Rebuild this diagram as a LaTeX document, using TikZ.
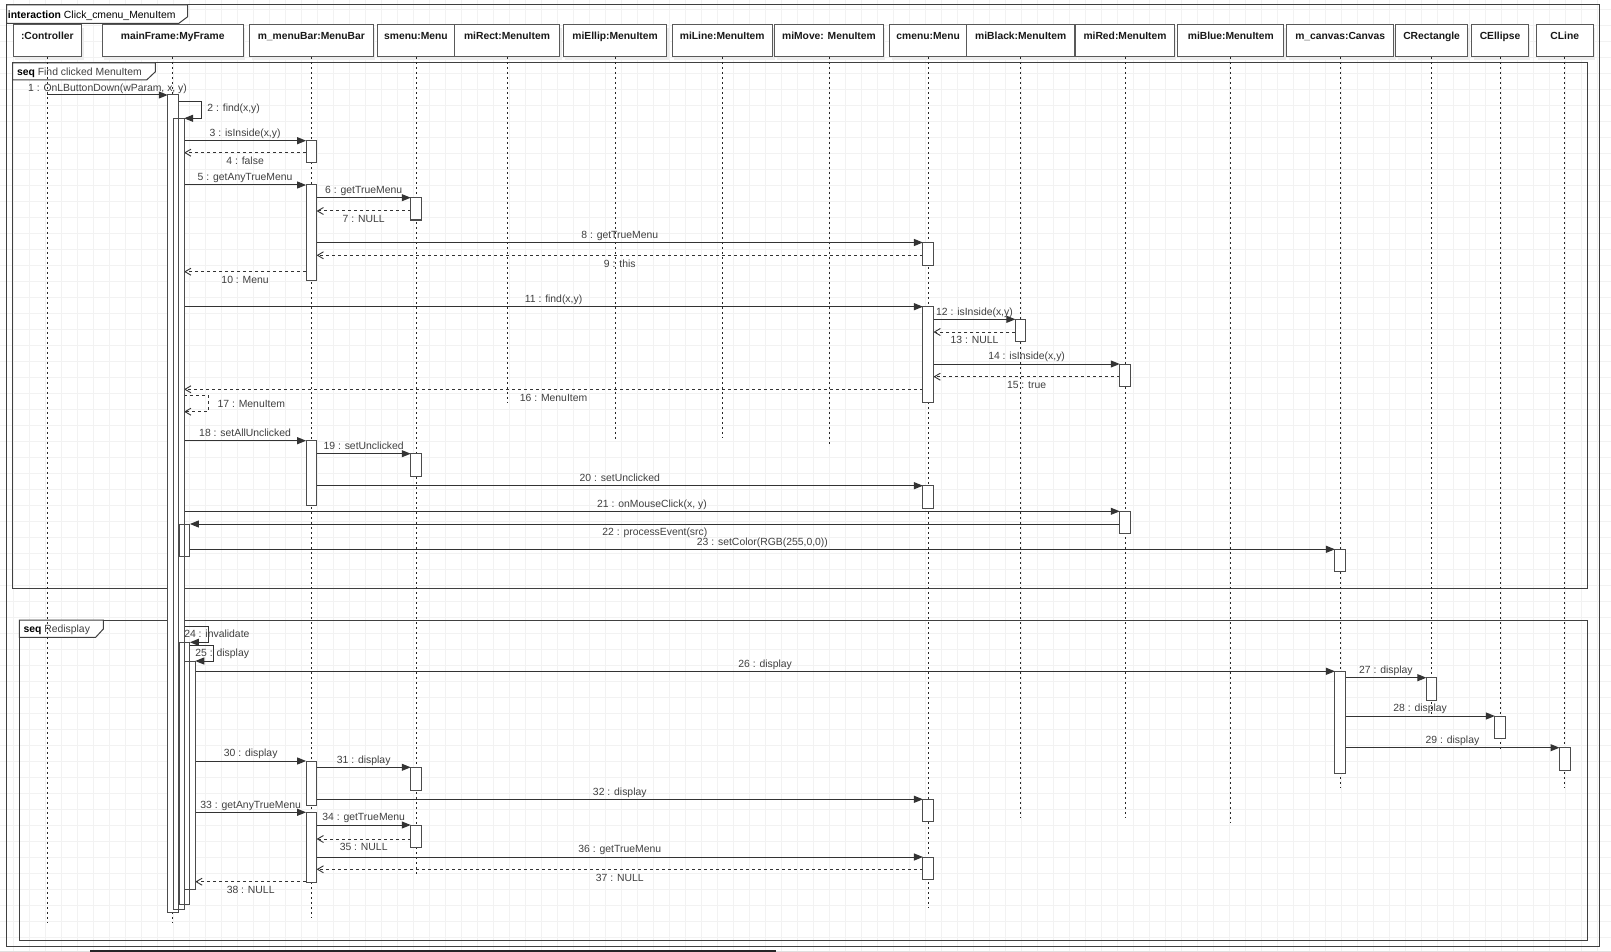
\documentclass[tikz,border=0pt]{standalone}
\usepackage{fontspec}
\setmainfont{Liberation Sans}
\usetikzlibrary{arrows.meta}

% header box with shadow and lifeline: name, left, right, lifeline end, caption
\newcommand\hdr[5]{%
  \fill[black!7] ({#2+2},28) rectangle ({#3+2},60);
  \node[hdrbox, minimum width={(#3-#2)*1pt}] (#1) at ({(#2+#3)/2},40.5) {#5};
  \draw[lifeline] (#1.south) -- (#1.south |- 0,#4);
}
% activation bar: [xshift], name, owner header, top, bottom
\newcommand\actbar[5][0]{%
  \node[actbox, xshift=#1pt, minimum height={(#5-#4)*1pt}] (#2) at (#3.south |- 0,#4) {};
}

\begin{document}
\begin{tikzpicture}[x=1pt,y=-1pt,
  gridline/.style={draw=black!5, line width=0.8pt},
  frame/.style={draw=black!75, line width=1pt},
  hdrbox/.style={draw=black!65, fill=white, line width=0.9pt, minimum height=32pt,
    inner sep=0pt, text height=15.2pt, text depth=16.8pt,
    font=\fontsize{10.3}{12}\selectfont\bfseries, text=black!90},
  lifeline/.style={draw=black!85, line width=0.9pt, dash pattern=on 2.5pt off 2.5pt},
  actbox/.style={fill=white, draw=none, inner sep=0pt, outer sep=0pt,
    minimum width=10.5pt, anchor=north},
  barline/.style={draw=black!70, line width=1pt},
  call/.style={draw=black!80, line width=1pt, -{Triangle[length=9pt,width=7pt]}},
  reply/.style={draw=black!80, line width=1pt, dash pattern=on 3pt off 3pt,
    -{Straight Barb[length=6pt,width=7pt,line width=0.9pt]}},
  lab/.style={font=\fontsize{10.4}{12}\selectfont, text=black!75, inner sep=0pt,
    text height=7.5pt, text depth=0pt},
  up/.style={lab, yshift=8pt},
  down/.style={lab, yshift=-8pt},
]
\useasboundingbox (0,0) rectangle (1611,952);
\fill[white] (0,0) rectangle (1611,952);

% background grid
\foreach \gx in {13,29,...,1611} \draw[gridline] (\gx,0) -- (\gx,952);
\foreach \gy in {9,25,...,952} \draw[gridline] (0,\gy) -- (1611,\gy);

% scroll bar
\draw[black!12, line width=1pt] (0,951) -- (1611,951);
\draw[black!85, line width=2pt] (90,950.5) -- (776,950.5);

% interaction frame
\draw[frame] (6.5,5) rectangle (1599.5,946.5);
\filldraw[frame, fill=white] (6.5,5) -- (187.7,5) -- (187.7,16.7) -- (178.9,23.3) -- (6.5,23.3) -- cycle;
\node[lab, anchor=west, text=black] at (7.7,14.5) {\textbf{interaction} Click\_cmenu\_MenuItem};

% combined fragments
\draw[frame] (12.7,63) rectangle (1587,588.3);
\filldraw[frame, fill=white] (12.7,63) -- (155.4,63) -- (155.4,71.7) -- (146.6,80) -- (12.7,80) -- cycle;
\node[lab, anchor=west] at (16.8,72) {\textbf{\color{black}seq} Find clicked MenuItem};

\draw[frame] (19.3,620) rectangle (1587.5,940);
\filldraw[frame, fill=white] (19.3,620) -- (103.3,620) -- (103.3,629) -- (95.7,637.3) -- (19.3,637.3) -- cycle;
\node[lab, anchor=west] at (23.3,629) {\textbf{\color{black}seq} Redisplay};

% participants and lifelines
\hdr{ctrl}{13}{81.7}{922}{:Controller}
\hdr{mf}{102.4}{243}{922.7}{mainFrame:MyFrame}
\hdr{mb}{249.7}{373}{918.3}{m\_menuBar:MenuBar}
\hdr{sm}{377.8}{454.2}{875}{smenu:Menu}
\hdr{rect}{454.2}{559.8}{402.7}{miRect:MenuItem}
\hdr{ellip}{563.3}{666.8}{441}{miEllip:MenuItem}
\hdr{line}{672}{772.5}{438}{miLine:MenuItem}
\hdr{move}{774.6}{883.3}{446.7}{miMove: MenuItem}
\hdr{cm}{889.6}{966.8}{908.3}{cmenu:Menu}
\hdr{black}{966.8}{1074.6}{817.3}{miBlack:MenuItem}
\hdr{red}{1075.8}{1174.2}{817.3}{miRed:MenuItem}
\hdr{blue}{1177.7}{1283.8}{822.7}{miBlue:MenuItem}
\hdr{cv}{1286.6}{1393.8}{787.5}{m\_canvas:Canvas}
\hdr{crect}{1395.6}{1467.6}{714}{CRectangle}
\hdr{cell}{1471.8}{1528.4}{749.3}{CEllipse}
\hdr{cline}{1536.1}{1593.4}{788}{CLine}

% activation bars
\actbar[0.3]{mfO}{mf}{95}{912}
\actbar[6.15]{mfI}{mf}{118.3}{909}
\actbar[11.95]{mfS}{mf}{524}{556}
\actbar[11.95]{mfA}{mf}{642.3}{904}
\actbar[17.3]{mfB}{mf}{661}{889}
\actbar{mb1}{mb}{140.7}{162.7}
\actbar{mb2}{mb}{185}{280.7}
\actbar{mb3}{mb}{440.7}{505}
\actbar{mb4}{mb}{761}{805.7}
\actbar{mb5}{mb}{812.3}{882.3}
\actbar{sm1}{sm}{197.7}{220}
\actbar{sm2}{sm}{453.7}{476}
\actbar{sm3}{sm}{767.3}{790}
\actbar{sm4}{sm}{825}{847.3}
\actbar{cm1}{cm}{242.5}{265}
\actbar{cm2}{cm}{306.7}{402.3}
\actbar{cm3}{cm}{485.7}{508.3}
\actbar{cm4}{cm}{799.3}{821.7}
\actbar{cm5}{cm}{857}{879}
\actbar{mbk}{black}{319.3}{341.7}
\actbar{mr1}{red}{364}{386.7}
\actbar{mr2}{red}{511.3}{533.7}
\actbar{cv1}{cv}{549.3}{571.7}
\actbar{cv2}{cv}{671.3}{773.3}
\actbar{cr}{crect}{677.7}{700}
\actbar{ce}{cell}{716}{738.3}
\actbar{cl}{cline}{747.7}{770}

% messages: Find clicked MenuItem
\draw[call] (ctrl.south |- 0,95) -- node[lab, yshift=7pt]{1 : OnLButtonDown(wParam, x, y)} (mfO.west |- 0,95);
\draw[call] (mfO.east |- 0,101.7) -- ++(23.7,0) -- ++(0,16.6)
  node[lab, midway, anchor=west, xshift=5pt, yshift=2pt]{2 : find(x,y)} -- (mfI.east |- 0,118.3);
\draw[call] (mfI.east |- 0,140.7) -- node[up]{3 : isInside(x,y)} (mb1.west |- 0,140.7);
\draw[reply] (mb1.west |- 0,152.7) -- node[down]{4 : false} (mfI.east |- 0,152.7);
\draw[call] (mfI.east |- 0,185) -- node[up]{5 : getAnyTrueMenu} (mb2.west |- 0,185);
\draw[call] (mb2.east |- 0,197.7) -- node[up]{6 : getTrueMenu} (sm1.west |- 0,197.7);
\draw[reply] (sm1.west |- 0,211) -- node[down]{7 : NULL} (mb2.east |- 0,211);
\draw[call] (mb2.east |- 0,242.5) -- node[up]{8 : getTrueMenu} (cm1.west |- 0,242.5);
\draw[reply] (cm1.west |- 0,255.3) -- node[down]{9 : this} (mb2.east |- 0,255.3);
\draw[reply] (mb2.west |- 0,271.7) -- node[down]{10 : Menu} (mfI.east |- 0,271.7);
\draw[call] (mfI.east |- 0,306.7) -- node[up]{11 : find(x,y)} (cm2.west |- 0,306.7);
\draw[call] (cm2.east |- 0,319.3) -- node[up]{12 : isInside(x,y)} (mbk.west |- 0,319.3);
\draw[reply] (mbk.west |- 0,332) -- node[down]{13 : NULL} (cm2.east |- 0,332);
\draw[call] (cm2.east |- 0,364) -- node[up]{14 : isInside(x,y)} (mr1.west |- 0,364);
\draw[reply] (mr1.west |- 0,376.7) -- node[down]{15 : true} (cm2.east |- 0,376.7);
\draw[reply] (cm2.west |- 0,389.3) -- node[down]{16 : MenuItem} (mfI.east |- 0,389.3);
\draw[reply] (mfI.east |- 0,395.7) -- ++(24.3,0) -- ++(0,16)
  node[lab, midway, anchor=west, xshift=8.7pt]{17 : MenuItem} -- (mfI.east |- 0,411.7);
\draw[call] (mfI.east |- 0,440.7) -- node[up]{18 : setAllUnclicked} (mb3.west |- 0,440.7);
\draw[call] (mb3.east |- 0,453.7) -- node[up]{19 : setUnclicked} (sm2.west |- 0,453.7);
\draw[call] (mb3.east |- 0,485.7) -- node[up]{20 : setUnclicked} (cm3.west |- 0,485.7);
\draw[call] (mfI.east |- 0,511.3) -- node[up]{21 : onMouseClick(x, y)} (mr2.west |- 0,511.3);
\draw[call] (mr2.west |- 0,524) -- node[down]{22 : processEvent(src)} (mfS.east |- 0,524);
\draw[call] (mfS.east |- 0,549.3) -- node[up]{23 : setColor(RGB(255,0,0))} (cv1.west |- 0,549.3);

% messages: Redisplay
\draw[call] (mfI.east |- 0,626.7) -- ++(24.3,0) -- ++(0,15.6) -- (mfA.east |- 0,642.3);
\node[lab, anchor=west] at (mfI.east |- 0,634) {24 : invalidate};
\draw[call] (mfA.east |- 0,645) -- ++(23.3,0) -- ++(0,16) -- (mfB.east |- 0,661);
\node[lab, anchor=west] at (mfB.east |- 0,652.7) {25 : display};
\draw[call] (mfB.east |- 0,671.3) -- node[up]{26 : display} (cv2.west |- 0,671.3);
\draw[call] (cv2.east |- 0,677.7) -- node[up]{27 : display} (cr.west |- 0,677.7);
\draw[call] (cv2.east |- 0,716) -- node[up]{28 : display} (ce.west |- 0,716);
\draw[call] (cv2.east |- 0,747.7) -- node[up]{29 : display} (cl.west |- 0,747.7);
\draw[call] (mfB.east |- 0,761) -- node[up]{30 : display} (mb4.west |- 0,761);
\draw[call] (mb4.east |- 0,767.3) -- node[up]{31 : display} (sm3.west |- 0,767.3);
\draw[call] (mb4.east |- 0,799.3) -- node[up]{32 : display} (cm4.west |- 0,799.3);
\draw[call] (mfB.east |- 0,812.3) -- node[up]{33 : getAnyTrueMenu} (mb5.west |- 0,812.3);
\draw[call] (mb5.east |- 0,825) -- node[up]{34 : getTrueMenu} (sm4.west |- 0,825);
\draw[reply] (sm4.west |- 0,839) -- node[down]{35 : NULL} (mb5.east |- 0,839);
\draw[call] (mb5.east |- 0,857) -- node[up]{36 : getTrueMenu} (cm5.west |- 0,857);
\draw[reply] (cm5.west |- 0,869.3) -- node[down]{37 : NULL} (mb5.east |- 0,869.3);
\draw[reply] (mb5.west |- 0,881.7) -- node[down]{38 : NULL} (mfB.east |- 0,881.7);

% outlines of the activation bars
\foreach \b in {mfO,mfI,mfS,mfA,mfB,mb1,mb2,mb3,mb4,mb5,sm1,sm2,sm3,sm4,
                cm1,cm2,cm3,cm4,cm5,mbk,mr1,mr2,cv1,cv2,cr,ce,cl}
  \draw[barline] (\b.north west) rectangle (\b.south east);
\end{tikzpicture}
\end{document}
